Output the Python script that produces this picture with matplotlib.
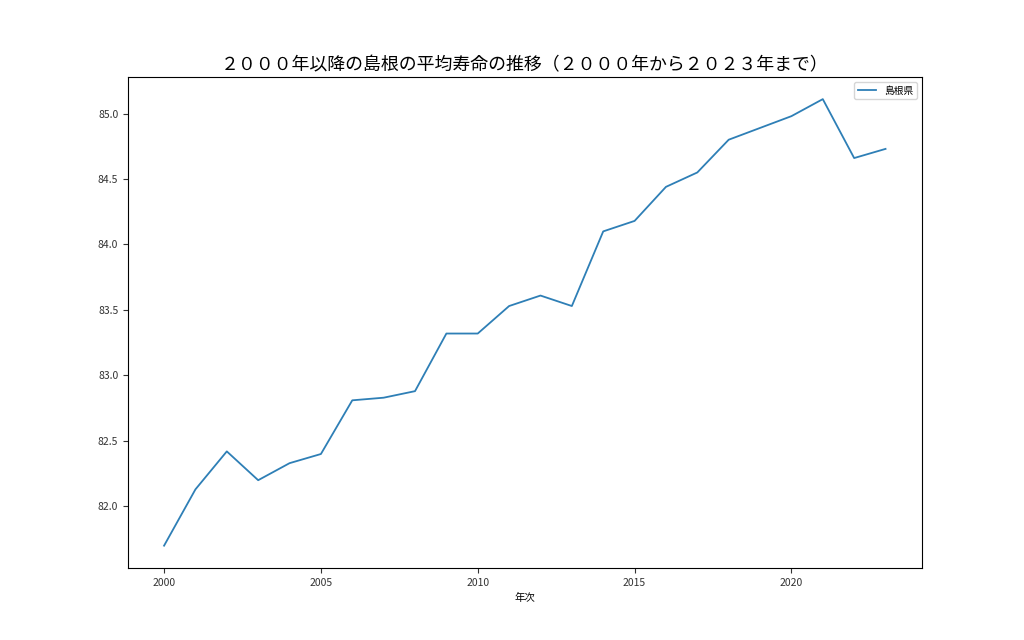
import matplotlib
matplotlib.use("Agg")
import matplotlib.pyplot as plt

plt.rcParams['font.family'] = ['Noto Sans CJK JP', 'DejaVu Sans']

years = list(range(2000, 2024))
shimane = [81.70, 82.13, 82.42, 82.20, 82.33, 82.40, 82.81, 82.83, 82.88, 83.32,
           83.32, 83.53, 83.61, 83.53, 84.10, 84.18, 84.44, 84.55, 84.80, 84.89,
           84.98, 85.11, 84.66, 84.73]
series_label = "島根県"
title = "２０００年以降の島根の平均寿命の推移（２０００年から２０２３年まで）"
xlabel = "年次"

fig = plt.figure(figsize=(10.24, 6.4), dpi=100)
ax = fig.add_axes([0.125, 0.1125, 0.775, 0.7675])
ax.plot(years, shimane, color="#2e7fb6", linewidth=1.3, label=series_label)
ax.set_title(title, fontsize=12.9, pad=5)
ax.set_xlabel(xlabel, fontsize=7.5)
ax.tick_params(labelsize=7.5, colors="#333333")
ax.set_xticks([2000, 2005, 2010, 2015, 2020])
ax.set_yticks([82.0, 82.5, 83.0, 83.5, 84.0, 84.5, 85.0])
ax.legend(loc="upper right", fontsize=7, handlelength=1.8)
fig.savefig("out.png", dpi=100)
